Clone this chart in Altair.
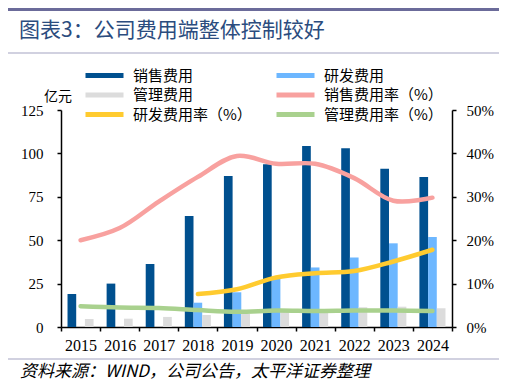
import altair as alt
import pandas as pd

years = ["2015", "2016", "2017", "2018", "2019", "2020", "2021", "2022", "2023", "2024"]
sales = [19.0, 25.0, 36.3, 64.0, 87.0, 93.7, 104.3, 103.0, 91.2, 86.4]
rd = [0.0, 0.0, 0.0, 14.0, 20.0, 28.0, 34.3, 40.0, 48.2, 51.8]
admin = [4.6, 4.8, 5.8, 6.9, 7.6, 8.8, 8.8, 11.4, 11.7, 10.8]
sales_rate = [20.0, 22.8, 28.9, 34.6, 39.4, 37.6, 37.6, 34.3, 29.1, 29.8]
rd_rate = [None, None, None, 7.6, 8.7, 11.4, 12.4, 12.9, 15.1, 17.8]
admin_rate = [4.8, 4.5, 4.4, 3.9, 3.5, 3.8, 3.7, 3.8, 3.8, 3.7]

bar_names = ["销售费用", "研发费用", "管理费用"]
line_names = ["销售费用率（%）", "研发费用率（%）", "管理费用率（%）"]
bar_colors = ["#00508F", "#6DB7FF", "#DCDCDC"]
line_colors = ["#F8A19F", "#FFCB2F", "#A9D18E"]

title_text = "图表3：公司费用端整体控制较好"
source_text = "资料来源：WIND，公司公告，太平洋证券整理"
unit_text = "亿元"

bar_rows = []
for i, y in enumerate(years):
    for name, vals in zip(bar_names, [sales, rd, admin]):
        bar_rows.append({"year": y, "series": name, "value": vals[i]})
bars_df = pd.DataFrame(bar_rows)

line_rows = []
for i, y in enumerate(years):
    for name, vals in zip(line_names, [sales_rate, rd_rate, admin_rate]):
        if vals[i] is not None:
            line_rows.append({"year": y, "series": name, "value": vals[i]})
lines_df = pd.DataFrame(line_rows)

SERIF = "Liberation Serif"
CJK = "Noto Sans CJK SC"

x_enc = alt.X(
    "year:N",
    sort=years,
    scale=alt.Scale(paddingInner=0, paddingOuter=0),
    axis=alt.Axis(
        title=None, labelAngle=0, tickBand="extent", labelFont=SERIF,
        labelFontSize=16, labelColor="#000", domainColor="#000", tickColor="#000",
        domainWidth=1.5, tickWidth=1.5, tickSize=4, labelPadding=6,
    ),
)

bars = alt.Chart(bars_df).mark_bar().encode(
    x=x_enc,
    xOffset=alt.XOffset("series:N", sort=bar_names,
                        scale=alt.Scale(domain=bar_names, paddingOuter=0.75, paddingInner=0)),
    y=alt.Y("value:Q", scale=alt.Scale(domain=[0, 125], nice=False),
            axis=alt.Axis(title=None, values=[0, 25, 50, 75, 100, 125], grid=False,
                          labelFont=SERIF, labelFontSize=15, labelColor="#000",
                          domainColor="#000", tickColor="#000", domainWidth=1.5,
                          tickWidth=1.5, tickSize=4, labelPadding=14, orient="left")),
    fill=alt.Fill("series:N", scale=alt.Scale(domain=bar_names, range=bar_colors), legend=None),
)

legend_order = bar_names + line_names
legend_colors = bar_colors + line_colors

lines = alt.Chart(lines_df).mark_line(interpolate="catmull-rom", strokeWidth=4.5, strokeCap="round").encode(
    x=x_enc,
    y=alt.Y("value:Q", scale=alt.Scale(domain=[0, 50], nice=False),
            axis=alt.Axis(title=None, values=[0, 10, 20, 30, 40, 50], grid=False,
                          labelExpr="datum.value + '%'",
                          labelFont=SERIF, labelFontSize=15, labelColor="#000",
                          domainColor="#000", tickColor="#000", domainWidth=1.5,
                          tickWidth=1.5, tickSize=4, labelPadding=10, orient="right")),
    color=alt.Color("series:N",
                    scale=alt.Scale(domain=legend_order, range=legend_colors),
                    legend=alt.Legend(orient="none", direction="horizontal",
                                      legendX=22, legendY=-44, columns=2,
                                      title=None, symbolType="stroke", symbolSize=1444,
                                      symbolStrokeWidth=5, clipHeight=19, rowPadding=0.5,
                                      columnPadding=22, labelFont=CJK, labelFontSize=15,
                                      labelOffset=7, labelColor="#000", padding=0,
                                      labelLimit=300)),
    order=alt.Order("year:N"),
)

one = pd.DataFrame({"k": [0]})

top_rule = alt.Chart(one).mark_rule(color="#6B6B9A", strokeWidth=3).encode(
    x=alt.value(-53), x2=alt.value(441), y=alt.value(-100.5))
sub_rule = alt.Chart(one).mark_rule(color="#A3A3C2", strokeWidth=1.2).encode(
    x=alt.value(-53), x2=alt.value(441), y=alt.value(-57))
bot_rule = alt.Chart(one).mark_rule(color="#A3A3C2", strokeWidth=1.2).encode(
    x=alt.value(-53), x2=alt.value(441), y=alt.value(249))

title = alt.Chart(one).mark_text(align="left", baseline="middle", font=CJK, fontSize=21,
                                 color="#2B4C7E").encode(
    x=alt.value(-42), y=alt.value(-79), text=alt.value(title_text))
source = alt.Chart(one).mark_text(align="left", baseline="middle", font=CJK, fontSize=17,
                                  fontStyle="italic", color="#000").encode(
    x=alt.value(-41), y=alt.value(262), text=alt.value(source_text))
unit = alt.Chart(one).mark_text(align="right", baseline="middle", font=CJK, fontSize=14,
                                color="#000").encode(
    x=alt.value(11), y=alt.value(-13), text=alt.value(unit_text))

chart = alt.layer(bars, lines, top_rule, sub_rule, bot_rule, title, source, unit).resolve_scale(
    y="independent"
).properties(
    width=391, height=217,
    autosize=alt.AutoSizeParams(type="none"),
    padding={"left": 53, "top": 102, "right": 47, "bottom": 54},
).configure_view(stroke=None)

chart.save("out.html", embed_options={"renderer": "svg", "actions": False})
